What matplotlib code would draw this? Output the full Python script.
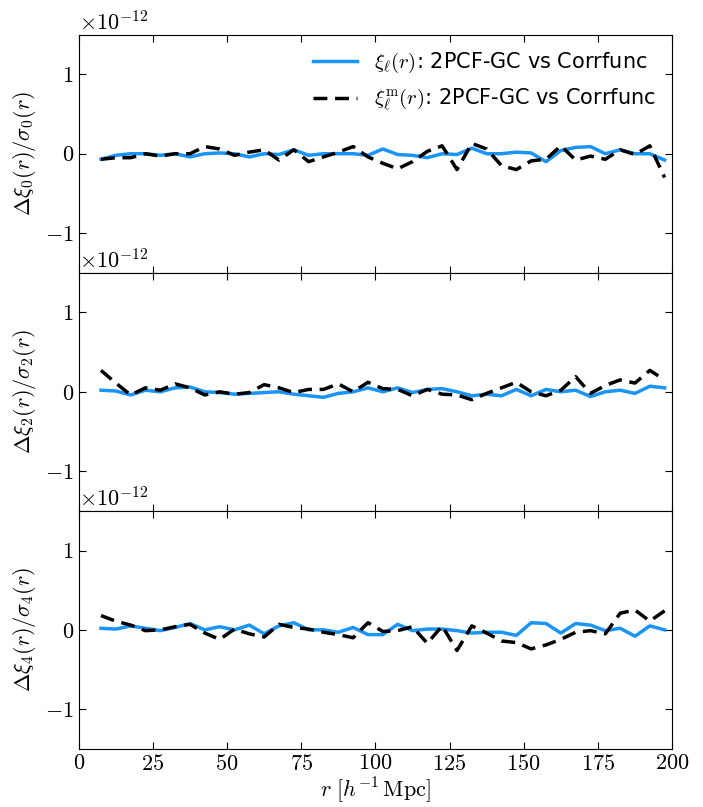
import numpy as np
import matplotlib
matplotlib.use("Agg")
import matplotlib.pyplot as plt

plt.rcParams['font.family'] = ['cmr10']
plt.rcParams['mathtext.fontset'] = 'cm'
plt.rcParams['axes.formatter.use_mathtext'] = True

r = np.arange(7.5, 200, 5.0)  # 39 bin centres

scale = 1e-12
xi0 = [-0.07, -0.02, 0.00, 0.00, -0.02, 0.00, -0.04, 0.00, 0.01, 0.00,
       -0.04, 0.00, -0.01, 0.05, -0.02, 0.00, 0.00, 0.00, -0.02, 0.06,
       -0.01, -0.02, -0.05, 0.00, -0.01, 0.07, 0.00, 0.00, 0.02, 0.01,
       -0.10, 0.04, 0.08, 0.09, 0.00, 0.05, 0.00, 0.00, -0.08]
xi0m = [-0.07, -0.05, -0.05, 0.00, -0.03, 0.00, 0.00, 0.09, 0.06, -0.02,
        0.02, 0.05, -0.08, 0.05, -0.10, -0.04, 0.02, 0.09, -0.04, -0.12,
        -0.19, -0.10, 0.03, 0.10, -0.20, 0.13, 0.06, -0.15, -0.20, -0.09,
        -0.07, 0.10, -0.08, -0.03, -0.07, 0.05, -0.01, 0.10, -0.30]
xi2 = [0.02, 0.01, -0.04, 0.02, 0.00, 0.05, 0.06, 0.00, -0.01, -0.03,
       -0.02, -0.01, 0.00, -0.03, -0.05, -0.07, -0.02, 0.00, 0.05, 0.00,
       0.05, -0.01, 0.03, 0.04, 0.00, -0.05, -0.03, -0.05, 0.03, -0.05,
       0.03, 0.00, 0.02, -0.06, 0.00, 0.02, -0.02, 0.07, 0.05]
xi2m = [0.27, 0.11, -0.04, 0.05, 0.02, 0.10, 0.05, -0.04, 0.00, -0.03,
        -0.01, 0.09, 0.05, -0.01, 0.03, 0.03, 0.10, 0.00, 0.12, 0.04,
        0.03, -0.05, 0.03, -0.03, -0.04, -0.10, -0.02, 0.05, 0.12, 0.00,
        -0.05, 0.02, 0.19, -0.02, 0.08, 0.15, 0.11, 0.27, 0.15]
xi4 = [0.02, 0.01, 0.05, 0.02, -0.01, 0.03, 0.08, 0.00, 0.04, 0.00,
       0.06, -0.05, 0.05, 0.09, 0.00, 0.00, -0.03, 0.03, -0.06, -0.06,
       0.07, -0.01, 0.01, 0.01, -0.01, -0.04, -0.03, -0.03, -0.07, 0.09,
       0.08, -0.04, 0.08, 0.06, -0.01, 0.02, -0.08, 0.05, 0.00]
xi4m = [0.18, 0.11, 0.06, -0.01, 0.00, 0.04, 0.07, -0.04, -0.12, 0.01,
        -0.05, -0.09, 0.07, 0.03, 0.01, -0.03, -0.06, -0.10, 0.09, -0.02,
        -0.01, 0.04, -0.17, 0.05, -0.26, 0.05, -0.04, -0.14, -0.16, -0.24,
        -0.19, -0.12, -0.03, -0.01, -0.05, 0.21, 0.25, 0.11, 0.24]

series = [(xi0, xi0m, 0), (xi2, xi2m, 2), (xi4, xi4m, 4)]
legend_labels = [r'$\xi_\ell(r)$: 2PCF-GC vs Corrfunc',
                 r'$\xi^{\rm m}_\ell(r)$: 2PCF-GC vs Corrfunc']
xticks = [0, 25, 50, 75, 100, 125, 150, 175, 200]

fig = plt.figure(figsize=(7.03, 8.07), dpi=100)
gs = fig.add_gridspec(3, 1, left=0.112, right=0.956, top=0.957, bottom=0.072, hspace=0)
axes = [fig.add_subplot(gs[i]) for i in range(3)]

for ax, (a, b, ell) in zip(axes, series):
    ax.plot(r, np.array(a) * scale, color='#1a94f5', lw=2.5, label=legend_labels[0])
    ax.plot(r, np.array(b) * scale, color='black', lw=2.5, ls=(0, (4, 2.2)), label=legend_labels[1])
    ax.set_xlim(0, 200)
    ax.set_ylim(-1.5e-12, 1.5e-12)
    ax.set_yticks([-1e-12, 0, 1e-12])
    ax.set_xticks(xticks)
    ax.tick_params(direction='in', top=True, right=True, labelsize=16, length=5)
    ax.yaxis.get_offset_text().set_fontsize(16)
    ax.set_ylabel(r'$\Delta\xi_%d(r)/\sigma_%d(r)$' % (ell, ell), fontsize=16)
    if ax is not axes[-1]:
        ax.tick_params(labelbottom=False)

axes[-1].set_xlabel(r'$r\ [h^{-1}\,\mathrm{Mpc}]$', fontsize=16, labelpad=1)
axes[0].legend(loc='upper right', frameon=False, prop={'family': 'DejaVu Sans', 'size': 15},
               handlelength=2.1, borderaxespad=0.5, borderpad=0.3, labelspacing=0.55)
for ax in axes:
    ax.yaxis.set_label_coords(-0.068, 0.5)

fig.savefig('out.png', dpi=100)
